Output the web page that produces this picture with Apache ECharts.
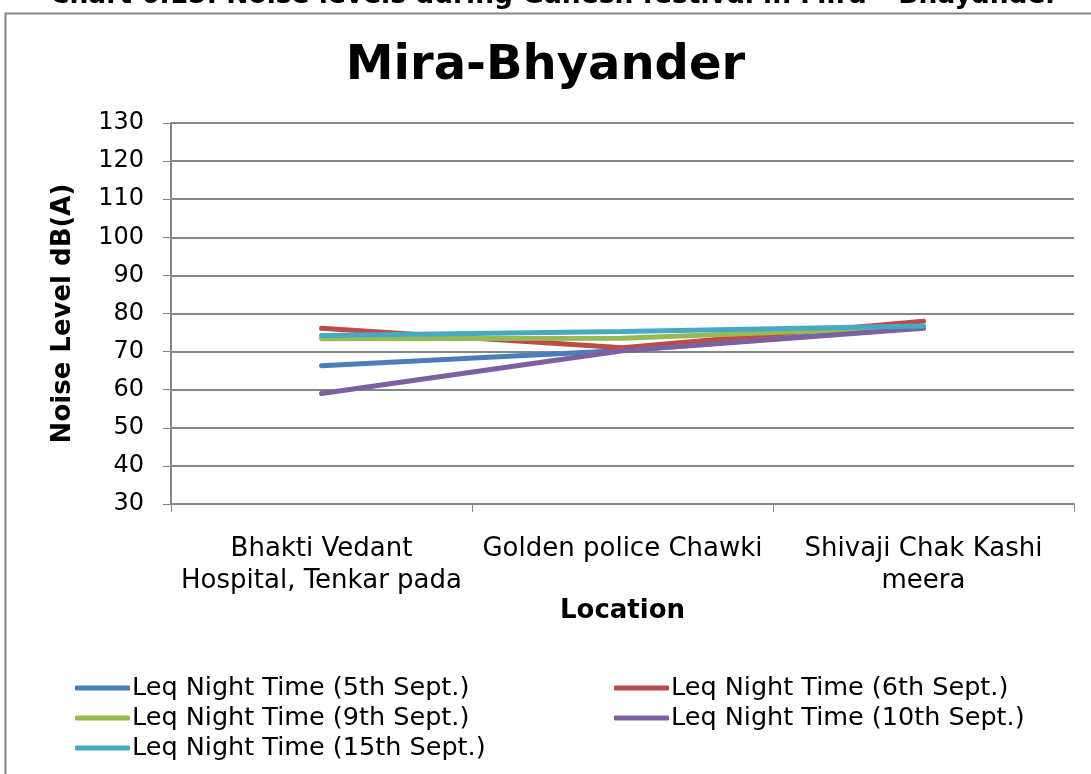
<!DOCTYPE html>
<html>
<head>
<meta charset="utf-8">
<script src="https://cdn.jsdelivr.net/npm/echarts@6/dist/echarts.min.js"></script>
<style>
html,body{margin:0;padding:0;background:#fff;}
#chart{width:1091px;height:774px;}
</style>
</head>
<body>
<div id="chart"></div>
<script>
const categories = ['Bhakti Vedant\nHospital, Tenkar pada', 'Golden police Chawki', 'Shivaji Chak Kashi\nmeera'];
const seriesNames = ['Leq Night Time (5th Sept.)', 'Leq Night Time (6th Sept.)', 'Leq Night Time (9th Sept.)', 'Leq Night Time (10th Sept.)', 'Leq Night Time (15th Sept.)'];
const leq5 = [66.3, 70.3, 76.3];
const leq6 = [76.1, 71.0, 78.0];
const leq9 = [73.4, 73.5, 76.5];
const leq10 = [59.0, 70.2, 76.1];
const leq15 = [74.2, 75.3, 76.7];
const yTicks = {min: 30, max: 130, interval: 10};
const colors = ['#4A7EBB', '#BE4B48', '#98B954', '#7D60A0', '#46AAC5'];
const values = [leq5, leq6, leq9, leq10, leq15];

const FONT = 'DejaVu Sans';
const chart = echarts.init(document.getElementById('chart'), null, {renderer: 'canvas'});

const legendPos = [
  {left: 75, top: 675}, {left: 614, top: 675},
  {left: 75, top: 705}, {left: 614, top: 705},
  {left: 75, top: 735}
];

const option = {
  animation: false,
  color: colors,
  title: {
    text: 'Mira-Bhyander',
    left: 'center',
    top: 43,
    padding: 0,
    textStyle: {fontFamily: FONT, fontSize: 48, fontWeight: 'bold', color: '#000'}
  },
  graphic: [
    {type: 'rect', shape: {x: 5.5, y: 13.5, width: 1300, height: 1000},
     style: {fill: 'none', stroke: '#868686', lineWidth: 2}, silent: true},
    {type: 'text', left: 50, top: -17,
     style: {text: 'Chart 6.15: Noise levels during Ganesh festival in Mira \u2013 Bhayander',
       font: 'bold 26.5px "DejaVu Sans"', fill: '#000'}}
  ],
  legend: seriesNames.map((n, i) => ({
    data: [n],
    left: legendPos[i].left,
    top: legendPos[i].top,
    padding: 0,
    icon: 'roundRect',
    itemWidth: 55,
    itemHeight: 5,
    itemGap: 0,
    textStyle: {fontFamily: FONT, fontSize: 25.5, color: '#000', padding: [0, 0, 0, -3]}
  })),
  grid: {left: 171, right: 17, top: 123, bottom: 270},
  xAxis: {
    type: 'category',
    data: categories,
    boundaryGap: true,
    name: 'Location',
    nameLocation: 'middle',
    nameGap: 83,
    nameTextStyle: {fontFamily: FONT, fontSize: 26, fontWeight: 'bold', color: '#000'},
    axisLine: {lineStyle: {color: '#868686', width: 2}},
    axisTick: {show: true, length: 8, lineStyle: {color: '#868686', width: 1}},
    axisLabel: {fontFamily: FONT, fontSize: 26, color: '#000', margin: 29, lineHeight: 32, interval: 0},
    splitLine: {show: false}
  },
  yAxis: {
    type: 'value',
    min: yTicks.min, max: yTicks.max, interval: yTicks.interval,
    name: 'Noise Level dB(A)',
    nameLocation: 'middle',
    nameGap: 95,
    nameTextStyle: {fontFamily: FONT, fontSize: 26, fontWeight: 'bold', color: '#000'},
    axisLine: {show: true, lineStyle: {color: '#868686', width: 2}},
    axisTick: {show: true, length: 8, inside: false, lineStyle: {color: '#868686', width: 1}},
    axisLabel: {fontFamily: FONT, fontSize: 24, color: '#000', margin: 27},
    splitLine: {show: true, lineStyle: {color: '#868686', width: 2}}
  },
  series: seriesNames.map((n, i) => ({
    name: n,
    type: 'line',
    data: values[i],
    symbol: 'none',
    lineStyle: {width: 5, color: colors[i], cap: 'round'},
    itemStyle: {color: colors[i]}
  }))
};
chart.setOption(option);
</script>
</body>
</html>
